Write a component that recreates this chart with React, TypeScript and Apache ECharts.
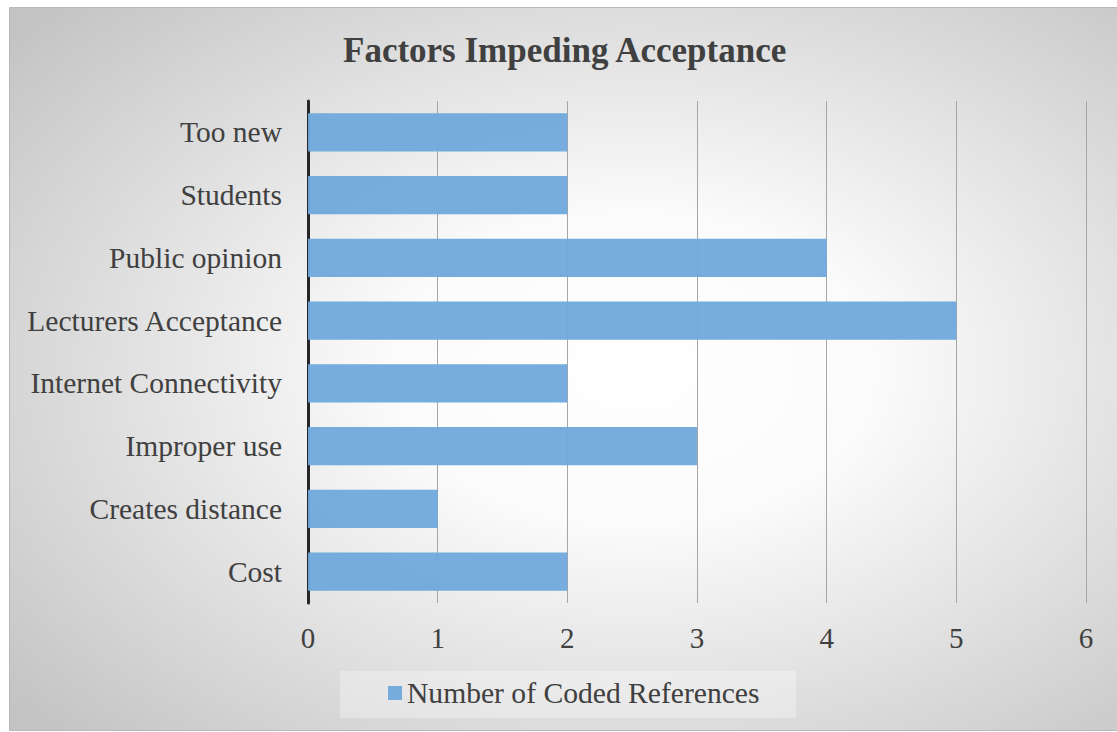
import React, { useEffect, useRef } from "react";
import * as echarts from "echarts";

const categories = [
  "Cost",
  "Creates distance",
  "Improper use",
  "Internet Connectivity",
  "Lecturers Acceptance",
  "Public opinion",
  "Students",
  "Too new",
];
const values = [2, 1, 3, 2, 5, 4, 2, 2];
const seriesName = "Number of Coded References";
const title = "Factors Impeding Acceptance";

const FONT = '"Liberation Serif", "Times New Roman", serif';

export default function App() {
  const ref = useRef<HTMLDivElement>(null);
  useEffect(() => {
    if (!ref.current) return;
    const chart = echarts.init(ref.current, undefined, { renderer: "svg" });
    chart.setOption({
      animation: false,
      graphic: [
        {
          type: "rect",
          z: -10,
          silent: true,
          shape: { x: 9.5, y: 7.5, width: 1115, height: 723 },
          style: {
            fill: new echarts.graphic.RadialGradient(0.56, 0.5, 0.72, [
              { offset: 0, color: "#ffffff" },
              { offset: 0.3, color: "#fbfbfb" },
              { offset: 1, color: "#c4c4c4" },
            ]),
            stroke: "#b8b8b8",
            lineWidth: 1,
          },
        },
        {
          type: "rect",
          z: -9,
          silent: true,
          shape: { x: 340, y: 671, width: 456, height: 47 },
          style: { fill: "rgba(255,255,255,0.3)" },
        },
      ],
      title: {
        text: title,
        left: 338,
        top: 28,
        textStyle: {
          fontFamily: FONT,
          fontWeight: "bold",
          fontSize: 35,
          color: "#404040",
        },
      },
      legend: {
        bottom: 19,
        left: 383,
        itemWidth: 14,
        itemHeight: 14,
        itemGap: 8,
        icon: "rect",
        textStyle: { fontFamily: FONT, fontSize: 29.6, color: "#404040" },
        data: [seriesName],
      },
      grid: { left: 308, right: 31, top: 101, bottom: 129 },
      xAxis: {
        type: "value",
        min: 0,
        max: 6,
        interval: 1,
        axisLine: { show: false },
        axisTick: { show: false },
        axisLabel: {
          fontFamily: FONT,
          fontSize: 29,
          color: "#404040",
          margin: 20,
        },
        splitLine: { show: true, lineStyle: { color: "#a6a6a6", width: 1 } },
      },
      yAxis: {
        type: "category",
        data: categories,
        axisLine: { show: true, lineStyle: { color: "#262626", width: 3 } },
        axisTick: { show: false },
        axisLabel: {
          fontFamily: FONT,
          fontSize: 29.5,
          color: "#404040",
          margin: 26,
        },
      },
      series: [
        {
          name: seriesName,
          type: "bar",
          data: values,
          barCategoryGap: "39%",
          itemStyle: { color: "#6fa8dc", opacity: 0.95 },
        },
      ],
    });
    return () => chart.dispose();
  }, []);
  return (
    <div
      ref={ref}
      style={{ position: "absolute", left: 0, top: 0, width: 1117, height: 732 }}
    />
  );
}
